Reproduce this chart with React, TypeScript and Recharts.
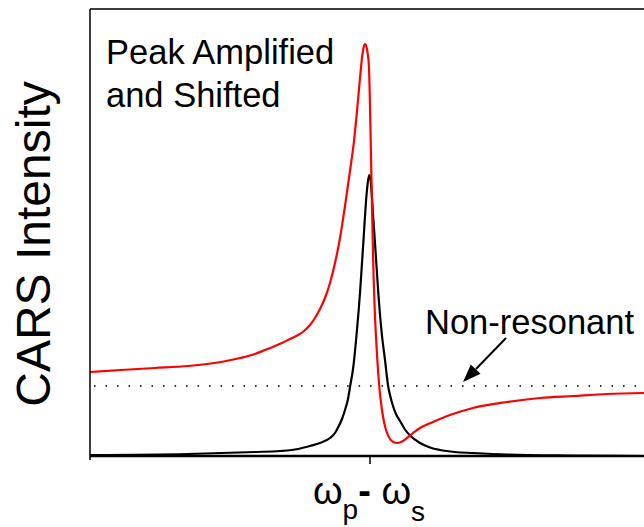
import React from "react";
import { LineChart, Line, XAxis, YAxis, ReferenceLine } from "recharts";

// Detuning (arbitrary units, 0 = resonance) and intensity (arbitrary units)
const redDetuning = [-280, -249, -215, -182, -149, -130, -115, -105, -95, -88, -80, -72, -66, -60, -55, -50, -45, -40, -35, -30, -25, -20, -16, -13, -10, -8, -6.5, -5, -3.5, -2, -1, 0, 1, 2, 3.3, 5, 6.5, 8.3, 10, 11.7, 14, 16.7, 20, 23.3, 27, 31, 37, 43, 50, 63, 80, 103, 137, 170, 203, 237, 274];
const redIntensity = [84, 86, 88, 90, 94, 98, 102, 106, 110, 113, 117, 121, 125, 131, 138, 147, 158, 173, 193, 218, 250, 285, 315, 345, 378, 398, 408, 412, 409, 400, 388, 350, 300, 250, 190, 140, 110, 82, 62, 48, 34, 24, 17, 14, 13, 14, 18, 23, 28, 34, 41, 48, 54, 58, 60, 62, 63];

const blackDetuning = [-280, -182, -115, -90, -72, -60, -50, -40, -35, -31.7, -28, -25, -22, -20, -16.7, -13.3, -10, -6.7, -3.3, -2, -0.7, 0.5, 1.7, 3, 5, 8.3, 11.7, 15, 18.3, 21, 23.3, 26, 30, 35, 40, 50, 60, 70, 85, 103, 137, 200, 274];
const blackIntensity = [1, 2, 4, 5, 7, 10, 13, 18, 23, 29, 37, 46, 57, 69, 89, 123, 163, 213, 263, 275, 281, 277, 263, 242, 213, 163, 123, 96, 69, 57, 49, 42, 35, 26.5, 20.5, 13, 8.5, 6, 4, 3, 1.5, 0.5, 0];

const nonResonantLevel = 70;
const xDomain = [-280, 274];
const yDomain = [0, 447];
const xTicks = [-280, 0];

const redData = redDetuning.map((x, i) => ({ x, y: redIntensity[i] }));
const blackData = blackDetuning.map((x, i) => ({ x, y: blackIntensity[i] }));

const FONT = "'Liberation Sans', Arial, Helvetica, sans-serif";

const XTick = (props: any) => {
  const { x, y, payload } = props;
  if (payload.value === 0) {
    return (
      <g>
        <line x1={x} y1={y} x2={x} y2={y + 8} stroke="#000" strokeWidth={1.5} />
        <text x={x - 1} y={y + 48} textAnchor="middle" fontFamily={FONT} fontSize={38} fill="#000">
          <tspan>ω</tspan>
          <tspan fontSize={28} dy={15}>p</tspan>
          <tspan dy={-15} fontWeight="bold">-</tspan>
          <tspan> ω</tspan>
          <tspan fontSize={28} dy={17}>s</tspan>
        </text>
      </g>
    );
  }
  return <line x1={x} y1={y} x2={x} y2={y + 4} stroke="#000" strokeWidth={1.5} />;
};

export default function App() {
  return (
    <div style={{ position: "fixed", left: 0, top: 0, width: 644, height: 527, background: "#fff", overflow: "hidden" }}>
      <LineChart width={644} height={527} margin={{ top: 9, right: 0, bottom: 0, left: 0 }}>
        <XAxis
          type="number"
          dataKey="x"
          domain={xDomain}
          ticks={xTicks}
          allowDataOverflow
          height={71}
          axisLine={{ stroke: "#000", strokeWidth: 2.5 }}
          tickLine={false}
          tickSize={0}
          tickMargin={0}
          tick={<XTick />}
          interval={0}
        />
        <YAxis
          type="number"
          dataKey="y"
          domain={yDomain}
          allowDataOverflow
          width={90}
          tick={false}
          tickLine={false}
          axisLine={{ stroke: "#000", strokeWidth: 1.5 }}
        />
        <ReferenceLine y={yDomain[1]} stroke="#000" strokeWidth={1.5} />
        <ReferenceLine
          y={nonResonantLevel}
          stroke="#000"
          strokeWidth={1.6}
          strokeDasharray="1.6 9.9"
          strokeDashoffset={-4}
        />
        <Line data={blackData} dataKey="y" type="monotone" stroke="#000" strokeWidth={2.2} dot={false} isAnimationActive={false} />
        <Line data={redData} dataKey="y" type="monotone" stroke="#ff0000" strokeWidth={2.2} dot={false} isAnimationActive={false} />
      </LineChart>
      <svg width={644} height={527} style={{ position: "absolute", left: 0, top: 0, pointerEvents: "none" }}>
        <text
          x={50}
          y={244}
          transform="rotate(-90 50 244)"
          textAnchor="middle"
          fontFamily={FONT}
          fontSize={48}
          fill="#000"
        >
          CARS Intensity
        </text>
        <text x={106} y={64} fontFamily={FONT} fontSize={34.5} fill="#000">Peak Amplified</text>
        <text x={106} y={107} fontFamily={FONT} fontSize={34.5} fill="#000">and Shifted</text>
        <text x={425} y={334} fontFamily={FONT} fontSize={34.5} fill="#000">Non-resonant</text>
        <line x1={506} y1={338} x2={476} y2={369} stroke="#000" strokeWidth={2} />
        <polygon points="463,382 480.5,373.8 470.8,364.4" fill="#000" />
      </svg>
    </div>
  );
}
